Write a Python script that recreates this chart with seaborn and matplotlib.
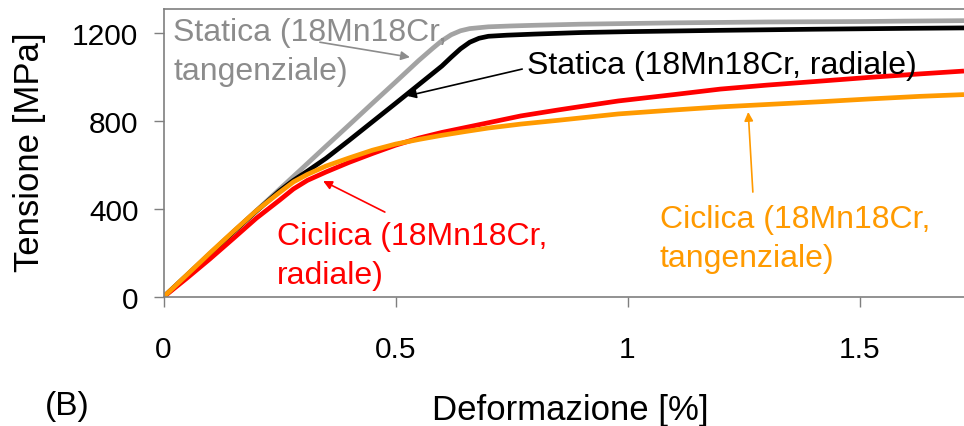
import numpy as np
import pandas as pd
import matplotlib
matplotlib.use("Agg")
import matplotlib.pyplot as plt
import seaborn as sns

# ---- data ----
stat_tang_x = [0, 0.05, 0.1, 0.15, 0.2, 0.25, 0.3, 0.35, 0.4, 0.45, 0.5, 0.55, 0.58, 0.6,
               0.62, 0.64, 0.66, 0.7, 0.75, 0.8, 0.9, 1.0, 1.1, 1.2, 1.3, 1.4, 1.5, 1.6, 1.725]
stat_tang_y = [0, 98, 196, 294, 392, 490, 587, 685, 782, 880, 977, 1075, 1130, 1165,
               1192, 1210, 1220, 1228, 1232, 1235, 1240, 1243, 1246, 1248, 1250, 1251, 1252, 1254, 1256]

stat_rad_x = [0, 0.05, 0.1, 0.15, 0.2, 0.25, 0.28, 0.31, 0.35, 0.4, 0.45, 0.5, 0.55, 0.6,
              0.62, 0.64, 0.66, 0.68, 0.7, 0.74, 0.8, 0.9, 1.0, 1.2, 1.4, 1.6, 1.725]
stat_rad_y = [0, 98, 196, 294, 390, 482, 530, 572, 630, 712, 796, 880, 965, 1050,
              1090, 1128, 1158, 1176, 1185, 1190, 1195, 1202, 1206, 1212, 1217, 1221, 1223]

cicl_rad_x = [0, 0.05, 0.1, 0.15, 0.2, 0.25, 0.28, 0.31, 0.35, 0.4, 0.45, 0.5, 0.55, 0.6,
              0.65, 0.7, 0.77, 0.85, 0.9, 0.98, 1.1, 1.2, 1.3, 1.42, 1.52, 1.63, 1.725]
cicl_rad_y = [0, 85, 173, 265, 358, 440, 491, 530, 568, 612, 652, 690, 722, 748,
              770, 792, 823, 850, 866, 891, 920, 945, 963, 982, 998, 1014, 1027]

cicl_tang_x = [0, 0.05, 0.1, 0.15, 0.2, 0.25, 0.28, 0.31, 0.35, 0.4, 0.45, 0.5, 0.55, 0.6,
               0.65, 0.7, 0.77, 0.85, 0.98, 1.1, 1.2, 1.3, 1.42, 1.52, 1.63, 1.725]
cicl_tang_y = [0, 100, 200, 297, 392, 475, 523, 557, 595, 632, 667, 695, 716, 735,
               752, 768, 786, 803, 832, 850, 864, 875, 888, 900, 912, 920]

x_ticks = [0, 0.5, 1, 1.5]
x_tick_labels = ["0", "0.5", "1", "1.5"]
y_ticks = [0, 400, 800, 1200]
y_tick_labels = ["0", "400", "800", "1200"]

labels = ["Statica (18Mn18Cr,\ntangenziale)", "Statica (18Mn18Cr, radiale)",
          "Ciclica (18Mn18Cr,\nradiale)", "Ciclica (18Mn18Cr,\ntangenziale)"]

# ---- style ----
sns.set_style("ticks")
plt.rcParams["font.family"] = ["Liberation Sans", "DejaVu Sans"]
plt.rcParams["text.color"] = "black"

W, H = 964, 427
fig = plt.figure(figsize=(W / 100, H / 100), dpi=100)
x0, x1, ytop, ybot = 163.5, 964.0, 10.0, 298.0
ax = fig.add_axes([x0 / W, (H - ybot) / H, (x1 - x0) / W, (ybot - ytop) / H])

series = [
    (stat_tang_x, stat_tang_y, "#a3a3a3"),
    (stat_rad_x, stat_rad_y, "#000000"),
    (cicl_rad_x, cicl_rad_y, "#ff0000"),
    (cicl_tang_x, cicl_tang_y, "#ff9a00"),
]
for xs, ys, col in series:
    df = pd.DataFrame({"x": xs, "y": ys})
    sns.lineplot(data=df, x="x", y="y", ax=ax, color=col, lw=3.4,
                 estimator=None, sort=False, solid_capstyle="butt",
                 solid_joinstyle="round")

ax.set_xlim(0, 1.725)
ax.set_ylim(0, 1309)
ax.set_xticks(x_ticks)
ax.set_xticklabels(x_tick_labels)
ax.set_yticks(y_ticks)
ax.set_yticklabels(y_tick_labels)
ax.set_xlabel("")
ax.set_ylabel("")

spine_col = "#7f7f7f"
for s in ["top", "left", "bottom"]:
    ax.spines[s].set_visible(True)
    ax.spines[s].set_color(spine_col)
    ax.spines[s].set_linewidth(1.2)
ax.spines["right"].set_visible(False)
ax.tick_params(axis="both", direction="out", length=7, width=1.0, color=spine_col,
               labelsize=21.5, labelcolor="black")
ax.tick_params(axis="x", pad=20)
ax.tick_params(axis="y", pad=11)

# ---- annotations ----
fs = 23
ax.text(0.0205, 1273, labels[0], color="#8c8c8c", fontsize=fs, ha="left", va="top", linespacing=1.4)
ax.text(0.783, 1123, labels[1], color="black", fontsize=fs, ha="left", va="top")
ax.text(0.2446, 345, labels[2], color="#ff0000", fontsize=fs, ha="left", va="top", linespacing=1.4)
ax.text(1.069, 423, labels[3], color="#ff9a00", fontsize=fs, ha="left", va="top", linespacing=1.4)

arrows = [
    ((0.337, 1158), (0.531, 1090), "#8c8c8c"),
    ((0.773, 1036), (0.525, 914), "black"),
    ((0.477, 386), (0.344, 527), "#ff0000"),
    ((1.270, 477), (1.260, 841), "#ff9a00"),
]
for tail, tip, col in arrows:
    ax.annotate("", xy=tip, xytext=tail,
                arrowprops=dict(arrowstyle="-|>", color=col, lw=1.2,
                                mutation_scale=13, shrinkA=0, shrinkB=0))

fig.text(30 / W, 1 - 152 / H, "Tensione [MPa]", rotation=90, ha="center", va="center",
         fontsize=25, color="black")
fig.text(570 / W, 1 - 420 / H, "Deformazione [%]", ha="center", va="baseline",
         fontsize=25, color="black")
fig.text(67 / W, 1 - 415 / H, "(B)", ha="center", va="baseline", fontsize=24, color="black")

fig.savefig("out.png", dpi=100)
